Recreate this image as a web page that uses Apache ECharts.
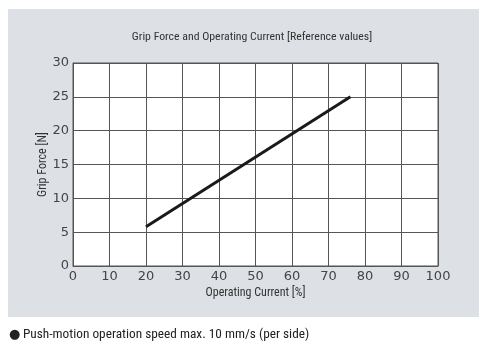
<!DOCTYPE html>
<html><head><meta charset="utf-8">
<script src="https://cdn.jsdelivr.net/npm/echarts@6/dist/echarts.min.js"></script>
<style>html,body{margin:0;padding:0;background:#fff}#c{width:485px;height:353px}</style>
</head><body><div id="c"></div>
<script>
const titleText = "Grip Force and Operating Current [Reference values]";
const xName = "Operating Current [%]";
const yName = "Grip Force [N]";
const bulletText = "\u25CF";
const noteText = "Push-motion operation speed max. 10 mm/s (per side)";
const currentPct = [20, 76];
const gripForceN = [5.8, 25];
const xTicks = [0,10,20,30,40,50,60,70,80,90,100];
const yTicks = [0,5,10,15,20,25,30];

const chart = echarts.init(document.getElementById('c'), null, {renderer:'canvas'});
const narrow = '"Liberation Sans Narrow", "Roboto Condensed", "DejaVu Sans Condensed", sans-serif';
chart.setOption({
  backgroundColor: '#ffffff',
  animation: false,
  graphic: [
    {type:'rect', z:-10, shape:{x:8, y:9, width:471, height:308}, style:{fill:'#dde1e5'}},
    {type:'text', x:252, y:37, style:{text:titleText, font:'11.8px ' + narrow, fill:'#333', align:'center', verticalAlign:'middle'}},
    {type:'text', x:9, y:335, style:{text:bulletText, font:'13px "DejaVu Sans", sans-serif', fill:'#222', align:'left', verticalAlign:'middle'}},
    {type:'text', x:23, y:335, style:{text:noteText, font:'13.3px ' + narrow, fill:'#222', align:'left', verticalAlign:'middle'}}
  ],
  grid: {left:73, top:63, width:365, height:203, show:true, backgroundColor:'#ffffff', borderColor:'#555', borderWidth:1, containLabel:false},
  xAxis: {type:'value', min:xTicks[0], max:xTicks[xTicks.length-1], interval:10,
    name:xName, nameLocation:'middle', nameGap:21, nameMoveOverlap:false,
    nameTextStyle:{fontSize:12, color:'#333', fontFamily: narrow},
    axisLine:{show:true, lineStyle:{color:'#555'}}, axisTick:{show:false},
    axisLabel:{color:'#444', fontSize:13, margin:4, fontFamily:'"DejaVu Sans", sans-serif'},
    splitLine:{show:true, lineStyle:{color:'#555', width:1}}},
  yAxis: {type:'value', min:yTicks[0], max:yTicks[yTicks.length-1], interval:5,
    name:yName, nameLocation:'middle', nameGap:24, nameMoveOverlap:false,
    nameTextStyle:{fontSize:12, color:'#333', fontFamily: narrow},
    axisLine:{show:true, lineStyle:{color:'#555'}}, axisTick:{show:false},
    axisLabel:{color:'#444', fontSize:13, margin:4, fontFamily:'"DejaVu Sans", sans-serif'},
    splitLine:{show:true, lineStyle:{color:'#555', width:1}}},
  series: [{type:'line', data: currentPct.map((x,i)=>[x, gripForceN[i]]),
    showSymbol:false, lineStyle:{color:'#1a1a1a', width:3}}]
});
</script></body></html>
